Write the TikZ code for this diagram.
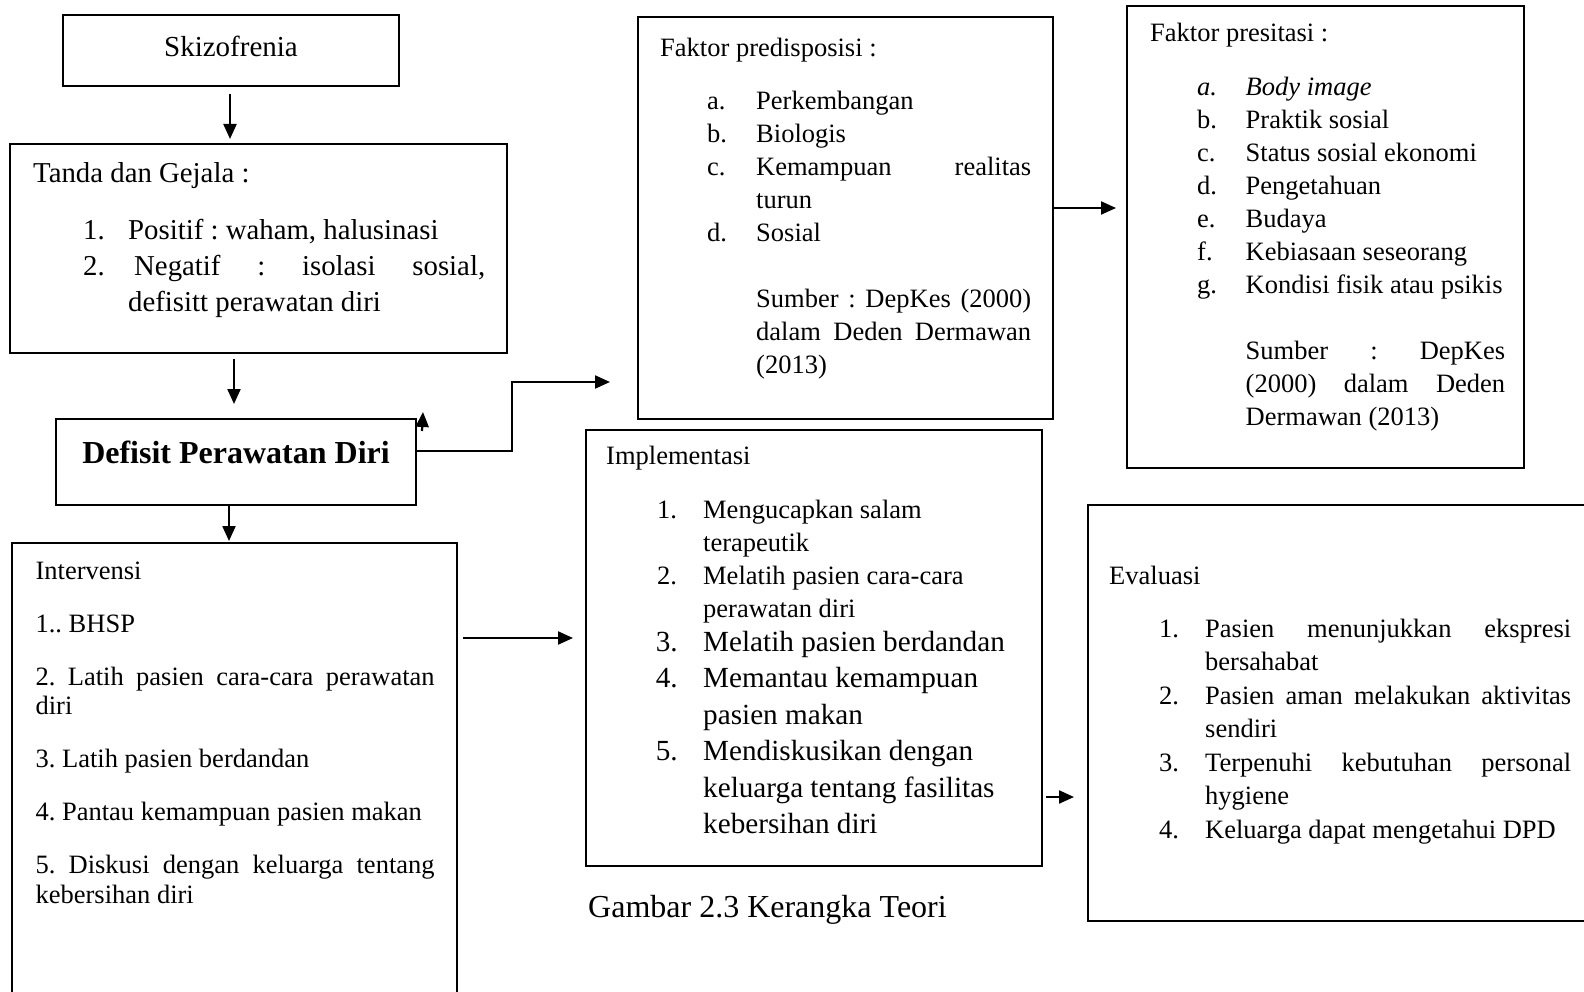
\documentclass[tikz,border=0pt]{standalone}
\usepackage{fontspec}
\setmainfont{Liberation Serif}
\usetikzlibrary{arrows.meta, positioning, calc}
\frenchspacing
\hyphenpenalty=10000
\exhyphenpenalty=10000
\tolerance=10000
\newlength{\lind}
\newlength{\lbl}
\newcommand{\listgeom}[2]{\setlength{\lind}{#1}\setlength{\lbl}{#2}}
\newcommand{\litem}[2]{\par\noindent\hangindent=\dimexpr\lind+\lbl\relax\hangafter=1
  \hspace*{\lind}\makebox[\lbl][l]{#1}#2}
\newcommand{\bodyfont}{\fontsize{26.5}{33}\selectfont}

\begin{document}
\begin{tikzpicture}[x=1pt, y=-1pt,
    box/.style={draw, line width=2.6pt, inner sep=0pt, outer sep=0pt, anchor=north west},
    txt/.style={inner sep=0pt, anchor=base west, align=justify,
      execute at begin node={\spaceskip=0pt\xspaceskip=0pt}},
    arr/.style={line width=2.2pt, -{Triangle[length=15pt, width=13pt]}}]
  \useasboundingbox (0,0) rectangle (1584,992);
  \clip (0,0) rectangle (1584,992);
  % ================================================================
  % left column
  % ================================================================
  \node[box, minimum width=336pt, minimum height=71pt] (skz) at (63,15) {};
  \node[inner sep=0pt, font=\fontsize{29}{35}\selectfont] (skztxt) at (231,46.5) {Skizofrenia};

  \node[box, minimum width=497pt, minimum height=209pt] (tanda) at (10,144) {};
  \node[txt, text width=452pt, font=\fontsize{28.8}{36}\selectfont] (tandatxt) at (33,183)
    {Tanda dan Gejala :\par\vspace{21pt}\listgeom{50pt}{45pt}
     \litem{1.}{Positif : waham, halusinasi}
     \litem{2.}{\hspace*{6pt}Negatif : isolasi sosial,\linebreak defisitt perawatan diri}\par};

  \node[box, minimum width=360pt, minimum height=86pt] (defisit) at (56,419) {};
  \node[inner sep=0pt, font=\fontsize{32}{38}\selectfont\bfseries] (defisittxt) at (236,452.6) {Defisit Perawatan Diri};

  \node[box, minimum width=445pt, minimum height=470pt] (interv) at (12,543) {};
  \node[txt, text width=399pt, font=\fontsize{26.5}{29.5}\selectfont] (intervtxt) at (35.4,579)
    {Intervensi\par\vspace{23.5pt}
     1.. BHSP\par\vspace{23.5pt}
     2. Latih pasien cara-cara perawatan\linebreak diri\par\vspace{23.5pt}
     3. Latih pasien berdandan\par\vspace{23.5pt}
     4. Pantau kemampuan pasien makan\par\vspace{23.5pt}
     5. Diskusi dengan keluarga tentang\linebreak kebersihan diri\par};
  % ================================================================
  % faktor boxes
  % ================================================================
  \node[box, minimum width=415pt, minimum height=402pt] (pred) at (638,17) {};
  \node[txt, text width=371pt, font=\bodyfont] (predtxt) at (660,57)
    {Faktor predisposisi :\par\vspace{19.7pt}\listgeom{47pt}{49pt}
     \litem{a.}{Perkembangan}
     \litem{b.}{Biologis}
     \litem{c.}{Kemampuan realitas\linebreak turun}
     \litem{d.}{Sosial}
     \par\vspace{33pt}
     \litem{}{Sumber : DepKes (2000)\linebreak dalam Deden Dermawan\linebreak (2013)}\par};

  \node[box, minimum width=397pt, minimum height=462pt] (presit) at (1127,6) {};
  \node[txt, text width=355pt, font=\bodyfont] (presittxt) at (1150,41.3)
    {Faktor presitasi :\par\vspace{21.7pt}\listgeom{47pt}{48.5pt}
     \litem{\textit{a.}}{\textit{Body image}}
     \litem{b.}{Praktik sosial}
     \litem{c.}{Status sosial ekonomi}
     \litem{d.}{Pengetahuan}
     \litem{e.}{Budaya}
     \litem{f.}{Kebiasaan seseorang}
     \litem{g.}{Kondisi fisik atau psikis}
     \par\vspace{33pt}
     \litem{}{Sumber : DepKes\linebreak (2000) dalam Deden\linebreak Dermawan (2013)}\par};
  % ================================================================
  % implementasi and evaluasi
  % ================================================================
  \node[box, minimum width=456pt, minimum height=436pt] (impl) at (586,430) {};
  \node[txt, text width=417pt, font=\bodyfont] (impltxt) at (606,464.6)
    {Implementasi\par\vspace{20.4pt}\listgeom{51pt}{46pt}
     \litem{1.}{Mengucapkan salam\newline terapeutik}
     \litem{2.}{Melatih pasien cara-cara\newline perawatan diri}
     \par\fontsize{29.2}{36.4}\selectfont\vspace{-2pt}\listgeom{49.6pt}{47.4pt}
     \litem{3.}{Melatih pasien berdandan}
     \litem{4.}{Memantau kemampuan\newline pasien makan}
     \litem{5.}{Mendiskusikan dengan\newline keluarga tentang fasilitas\newline kebersihan diri}\par};

  \node[box, minimum width=520pt, minimum height=416pt] (eval) at (1088,505) {};
  \node[txt, text width=462pt, font=\fontsize{26.5}{33.5}\selectfont] (evaltxt) at (1109,584)
    {Evaluasi\par\vspace{19.5pt}\listgeom{50pt}{46pt}
     \litem{1.}{Pasien menunjukkan ekspresi\linebreak bersahabat}
     \litem{2.}{Pasien aman melakukan aktivitas\linebreak sendiri}
     \litem{3.}{Terpenuhi kebutuhan personal\linebreak hygiene}
     \litem{4.}{Keluarga dapat mengetahui DPD}\par};

  \node[inner sep=0pt, anchor=base west, font=\fontsize{32}{38}\selectfont] (caption) at (588,917) {Gambar 2.3 Kerangka Teori};
  % ================================================================
  % connectors
  % ================================================================
  \coordinate (predin) at ($(pred.west)+(-28,164)$);
  \coordinate (ia) at ($(interv.north east)+(6,95)$);
  \coordinate (ie) at ($(impl.north east)+(4,367)$);
  \draw[arr, shorten <=8pt, shorten >=5pt] ([xshift=-1pt]skz.south) -- ([xshift=-1pt]skz.south |- tanda.north);
  \draw[arr, shorten <=6pt, shorten >=15pt] ([xshift=-2pt]defisit.north |- tanda.south) -- ([xshift=-2pt]defisit.north);
  \draw[arr, shorten >=2pt] ([xshift=-7pt]defisit.south) -- ([xshift=-7pt]defisit.south |- interv.north);
  \draw[arr] ([shift={(6pt,-12pt)}]defisit.north east) -- ([shift={(7pt,7pt)}]defisit.north east);
  \draw[arr] ([yshift=11pt]defisit.east) -- ++(96,0) |- (predin);
  \draw[arr, shorten >=11pt] ([yshift=10pt]pred.east) -- ([yshift=10pt]pred.east -| presit.west);
  \draw[arr, shorten >=13pt] (ia) -- (impl.west |- ia);
  \draw[arr, shorten >=14pt] (ie) -- (eval.west |- ie);
\end{tikzpicture}
\end{document}
